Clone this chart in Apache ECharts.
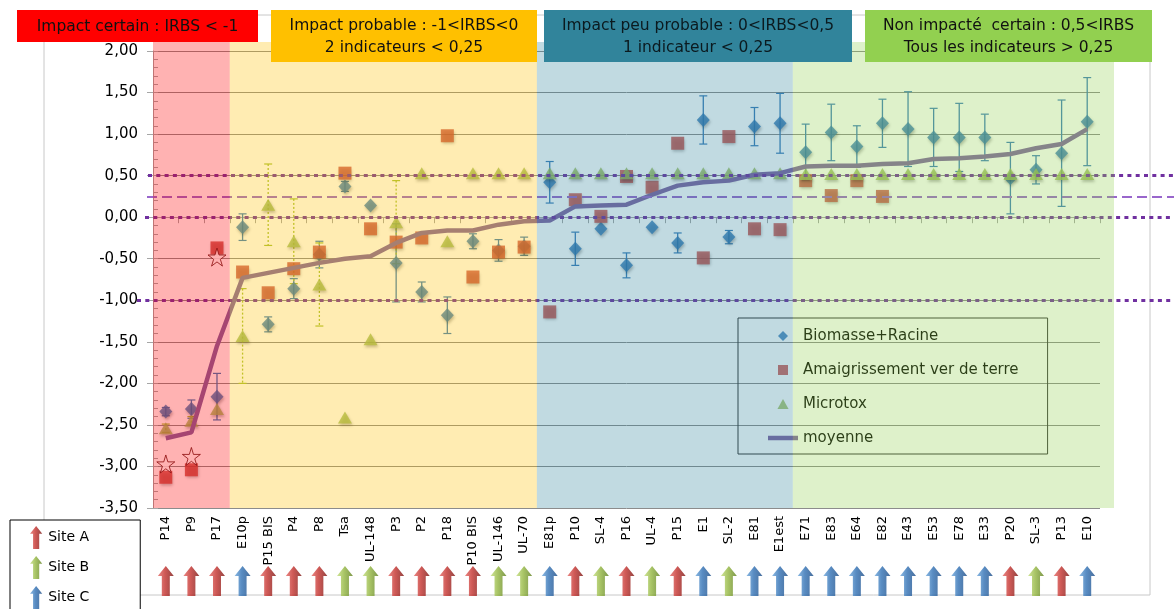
<!DOCTYPE html>
<html><head><meta charset="utf-8">
<script src="https://cdn.jsdelivr.net/npm/echarts@6/dist/echarts.min.js"></script>
<style>html,body{margin:0;padding:0;background:#fff}#c{width:1174px;height:609px}</style>
</head><body><div id="c"></div>
<script>
// ---------- DATA ----------
const categories = ['P14','P9','P17','E10p','P15 BIS','P4','P8','Tsa','UL-148','P3','P2','P18','P10 BIS','UL-146','UL-70','E81p','P10','SL-4','P16','UL-4','P15','E1','SL-2','E81','E1est','E71','E83','E64','E82','E43','E53','E78','E33','P20','SL-3','P13','E10'];
const sites = ['A','A','A','C','A','A','A','B','B','A','A','A','A','B','B','C','A','B','A','B','A','C','B','C','C','C','C','C','C','C','C','C','C','A','B','A','C'];
const biomasse = [-2.34,-2.31,-2.16,-0.12,-1.29,-0.86,-0.45,0.37,0.14,-0.55,-0.90,-1.18,-0.29,-0.40,-0.35,0.42,-0.38,-0.14,-0.58,-0.12,-0.31,1.17,-0.24,1.09,1.13,0.78,1.02,0.85,1.13,1.06,0.96,0.96,0.96,0.47,0.57,0.77,1.15];
const biomasseErr = [0.05,0.11,0.28,0.16,0.09,0.12,0.16,0.06,0,0.47,0.12,0.22,0.09,0.13,0.11,0.25,0.20,0,0.15,0,0.12,0.29,0.08,0.23,0.36,0.34,0.34,0.25,0.29,0.45,0.35,0.41,0.28,0.43,0.17,0.64,0.53];
const amaigrissement = [-3.13,-3.04,-0.37,-0.66,-0.91,-0.62,-0.42,0.53,-0.14,-0.30,-0.25,0.98,-0.72,-0.42,-0.36,-1.14,0.21,0.01,0.49,0.36,0.89,-0.49,0.97,-0.14,-0.15,0.44,0.26,0.44,0.25,null,null,null,null,null,null,null,null];
const microtox = [-2.54,-2.45,-2.31,-1.43,0.15,-0.29,-0.81,-2.41,-1.47,-0.06,0.53,-0.29,0.53,0.53,0.53,0.53,0.53,0.53,0.53,0.53,0.53,0.53,0.53,0.53,0.53,0.52,0.52,0.52,0.52,0.52,0.52,0.52,0.52,0.52,0.52,0.52,0.52];
const microtoxErr = [0.05,0.05,0,0.57,0.49,0.51,0.50,0,0,0.50,0,0,0,0,0,0,0,0,0,0,0,0,0,0,0,0,0,0,0,0,0,0,0,0,0,0,0];
const moyenne = [-2.66,-2.59,-1.55,-0.73,-0.67,-0.61,-0.55,-0.50,-0.47,-0.31,-0.19,-0.16,-0.16,-0.09,-0.05,-0.04,0.13,0.14,0.15,0.27,0.38,0.42,0.44,0.51,0.53,0.61,0.62,0.62,0.64,0.65,0.70,0.71,0.73,0.76,0.83,0.88,1.06];
const etoiles = [-2.97,-2.88,-0.48,null,null,null,null,null,null,null,null,null,null,null,null,null,null,null,null,null,null,null,null,null,null,null,null,null,null,null,null,null,null,null,null,null,null];
const seuilsPointilles = [0.5, 0, -1];
const seuilTirets = 0.25;
const zones = [
  {label:'Impact certain : IRBS < -1', from:0, to:3, color:'rgba(255,0,0,0.3)', box:'#FF0000', text:'#111'},
  {label:'Impact probable : -1<IRBS<0\n2 indicateurs < 0,25', from:3, to:15, color:'rgba(255,192,0,0.3)', box:'#FFC000', text:'#111'},
  {label:'Impact peu probable : 0<IRBS<0,5\n1 indicateur < 0,25', from:15, to:25, color:'rgba(49,132,155,0.3)', box:'#31849B', text:'#0b1a1f'},
  {label:'Non impacté  certain : 0,5<IRBS\nTous les indicateurs > 0,25', from:25, to:37.55, color:'rgba(146,208,80,0.3)', box:'#92D050', text:'#111'}
];
const siteNames = {A:'Site A', B:'Site B', C:'Site C'};

// ---------- CHART ----------
const FONT = '"DejaVu Sans"';
const chart = echarts.init(document.getElementById('c'), null, {renderer:'canvas'});
const shadow = {shadowBlur:3, shadowOffsetX:1, shadowOffsetY:2, shadowColor:'rgba(0,0,0,0.35)'};
const fmt = v => (Math.round(v*100)/100).toFixed(2).replace('.', ',');
const nn = a => a.map(v => v == null ? '-' : v);

function errSeries(vals, errs, color, dash) {
  const data = [];
  vals.forEach((v,i) => { if (v != null && errs[i] > 0) data.push([i, v, errs[i]]); });
  return {
    type:'custom', xAxisIndex:0, yAxisIndex:0, z:2, silent:true, data,
    encode:{x:0, y:1},
    renderItem(params, api) {
      const x = api.value(0), y = api.value(1), e = api.value(2);
      const t = api.coord([x, y+e]), b = api.coord([x, y-e]);
      const cw = 4;
      const st = {stroke:color, lineWidth:1.2};
      return {type:'group', children:[
        {type:'line', shape:{x1:t[0],y1:t[1],x2:b[0],y2:b[1]}, style:{stroke:color, lineWidth:1.3, lineDash: dash || null}},
        {type:'line', shape:{x1:t[0]-cw,y1:t[1],x2:t[0]+cw,y2:t[1]}, style:st},
        {type:'line', shape:{x1:b[0]-cw,y1:b[1],x2:b[0]+cw,y2:b[1]}, style:st}
      ]};
    }
  };
}

const arrowPath = 'path://M8,0 L16,10 L12,10 L12,30 L4,30 L4,10 L0,10 Z';
const grad = (a,b,c) => new echarts.graphic.LinearGradient(0,0,1,0,[{offset:0,color:a},{offset:0.45,color:b},{offset:1,color:c}]);
const siteColors = {A:grad('#E46A66','#C3302C','#7A1512'), B:grad('#C4DE7E','#93B640','#5E7F1E'), C:grad('#6FA8DC','#2F6FB3','#1B4B85')};

const graphics = [
  {type:'rect', z:-10, silent:true, shape:{x:44, y:15, width:1106, height:580}, style:{fill:'none', stroke:'#C8C8C8', lineWidth:1}}
];
const boxes = [[17,10,241,32],[271,10,266,52],[544,10,308,52],[865,10,287,52]];
zones.forEach((z,i) => {
  const [x,y,w,h] = boxes[i];
  graphics.push({type:'rect', z:200, silent:true, shape:{x,y,width:w,height:h}, style:{fill:z.box}});
  graphics.push({type:'text', z:201, silent:true, x:x+w/2, y:y+h/2+1, style:{text:z.label, fill:z.text, font:'15.5px "DejaVu Sans"', align:'center', verticalAlign:'middle', lineHeight:22}});
});

const series = [
  errSeries(biomasse, biomasseErr, '#3A7DBA'),
  errSeries(microtox, microtoxErr, '#A8C238', [2,2]),
  {name:'Biomasse+Racine', type:'scatter', xAxisIndex:0, yAxisIndex:0, z:3, symbol:'diamond', symbolSize:[13,14], data:nn(biomasse), itemStyle:Object.assign({color:'#2E75B6'}, shadow)},
  {name:'Amaigrissement ver de terre', type:'scatter', xAxisIndex:0, yAxisIndex:0, z:3, symbol:'rect', symbolSize:13, data:nn(amaigrissement), itemStyle:Object.assign({color:'#C7433F'}, shadow)},
  {name:'Microtox', type:'scatter', xAxisIndex:0, yAxisIndex:0, z:3, symbol:'triangle', symbolSize:[14,12], data:nn(microtox), itemStyle:Object.assign({color:'#9BBB59'}, shadow)},
  {name:'moyenne', type:'line', xAxisIndex:0, yAxisIndex:0, z:4, symbol:'none', data:moyenne, lineStyle:{color:'#8064A2', width:4.5}, itemStyle:{color:'#8064A2'}},
  {name:'etoiles', type:'scatter', xAxisIndex:0, yAxisIndex:0, z:4, symbol:'path://M50,0 L61,35 L98,35 L68,57 L79,91 L50,70 L21,91 L32,57 L2,35 L39,35 Z', symbolSize:18, data:nn(etoiles), itemStyle:{color:'#ffffff', borderColor:'#5a1010', borderWidth:1}},
  // reference lines
  {type:'line', xAxisIndex:2, yAxisIndex:3, z:5, data:[], silent:true,
   markLine:{z:5, symbol:'none', silent:true, label:{show:false}, animation:false,
     data:[
       [{coord:[11, seuilsPointilles[0]]},{coord:[1037, seuilsPointilles[0]]}],
       [{coord:[8, seuilsPointilles[1]]},{coord:[1037, seuilsPointilles[1]]}],
       [{coord:[0, seuilsPointilles[2]]},{coord:[1037, seuilsPointilles[2]]}]
     ],
     lineStyle:{color:'#7030A0', width:3, type:[4,4.3], cap:'butt'}}},
  {type:'line', xAxisIndex:2, yAxisIndex:3, z:5, data:[], silent:true,
   markLine:{z:5, symbol:'none', silent:true, label:{show:false}, animation:false,
     data:[[{coord:[10, seuilTirets]},{coord:[1037, seuilTirets]}]],
     lineStyle:{color:'#9966CC', width:2, type:[10,5]}}},
  // translucent zone overlays
  {type:'line', xAxisIndex:1, yAxisIndex:2, z:10, data:[], silent:true,
   markArea:{z:10, silent:true, animation:false,
     data: zones.map(z => [{xAxis:z.from, yAxis:0, itemStyle:{color:z.color}}, {xAxis:z.to, yAxis:1}])}}
];
['A','B','C'].forEach(s => {
  series.push({name:siteNames[s], type:'scatter', xAxisIndex:3, yAxisIndex:4, z:3, symbol:arrowPath, symbolSize:[16,30],
    data: sites.map(v => v === s ? 0.5 : '-'), itemStyle:{color:siteColors[s]}});
});

const option = {
  animation:false,
  backgroundColor:'#ffffff',
  textStyle:{fontFamily:FONT},
  graphic: graphics,
  grid:[
    {left:153, right:74, top:51, bottom:101, outerBoundsMode:'none'},
    {left:153, right:60, top:42, bottom:101, outerBoundsMode:'none'},
    {left:137, right:0, top:51, bottom:101, outerBoundsMode:'none'},
    {left:153, right:74, top:566, height:30, outerBoundsMode:'none'}
  ],
  xAxis:[
    {type:'category', gridIndex:0, data:categories,
     axisLine:{lineStyle:{color:'#A6A6A6'}},
     axisTick:{show:true, length:6, lineStyle:{color:'#A6A6A6'}},
     axisLabel:{interval:0, rotate:90, margin:8, color:'#000', fontSize:13, fontFamily:FONT},
     splitLine:{show:false}},
    {type:'value', gridIndex:1, min:0, max:37.55, show:false},
    {type:'value', gridIndex:2, min:0, max:1037, show:false},
    {type:'category', gridIndex:3, data:categories, show:false}
  ],
  yAxis:[
    {type:'value', gridIndex:0, min:-3.5, max:2, interval:0.5,
     axisLine:{show:true, lineStyle:{color:'#A6A6A6'}},
     axisTick:{show:true, length:6, lineStyle:{color:'#A6A6A6'}},
     axisLabel:{color:'#000', fontSize:15, fontFamily:FONT, margin:15, formatter:fmt},
     splitLine:{show:true, lineStyle:{color:'#8C8C8C', width:1}}},
    {type:'value', gridIndex:0, min:-3.5, max:2, interval:0.1, position:'left',
     axisLine:{show:false}, axisLabel:{show:false}, splitLine:{show:false},
     axisTick:{show:true, inside:true, length:5, lineStyle:{color:'#A6A6A6'}}},
    {type:'value', gridIndex:1, min:0, max:1, show:false},
    {type:'value', gridIndex:2, min:-3.5, max:2, show:false},
    {type:'value', gridIndex:3, min:0, max:1, show:false}
  ],
  legend:[
    {orient:'vertical', left:738, top:318, padding:[9,29,7,30], itemGap:16, itemWidth:30, itemHeight:10,
     selectedMode:false, borderColor:'#333', borderWidth:1, backgroundColor:'transparent', z:4,
     textStyle:{color:'#000', fontSize:15, fontFamily:FONT, lineHeight:18},
     data:[{name:'Biomasse+Racine', icon:'path://M5,0 L10,5 L5,10 L0,5 Z'},
           {name:'Amaigrissement ver de terre', icon:'path://M0,0 L10,0 L10,10 L0,10 Z'},
           {name:'Microtox', icon:'path://M5,0 L10,9 L0,9 Z'},
           {name:'moyenne', icon:'path://M0,0 L30,0 L30,4.5 L0,4.5 Z'}]},
    {orient:'vertical', left:10, top:520, height:120, padding:[6,51,20,20], itemGap:7, itemWidth:14, itemHeight:23,
     selectedMode:false, borderColor:'#000', borderWidth:1, backgroundColor:'#ffffff', z:50,
     textStyle:{color:'#000', fontSize:14, fontFamily:FONT},
     data:[{name:'Site A', icon:arrowPath}, {name:'Site B', icon:arrowPath}, {name:'Site C', icon:arrowPath}]}
  ],
  series
};
chart.setOption(option);
</script>
</body></html>
